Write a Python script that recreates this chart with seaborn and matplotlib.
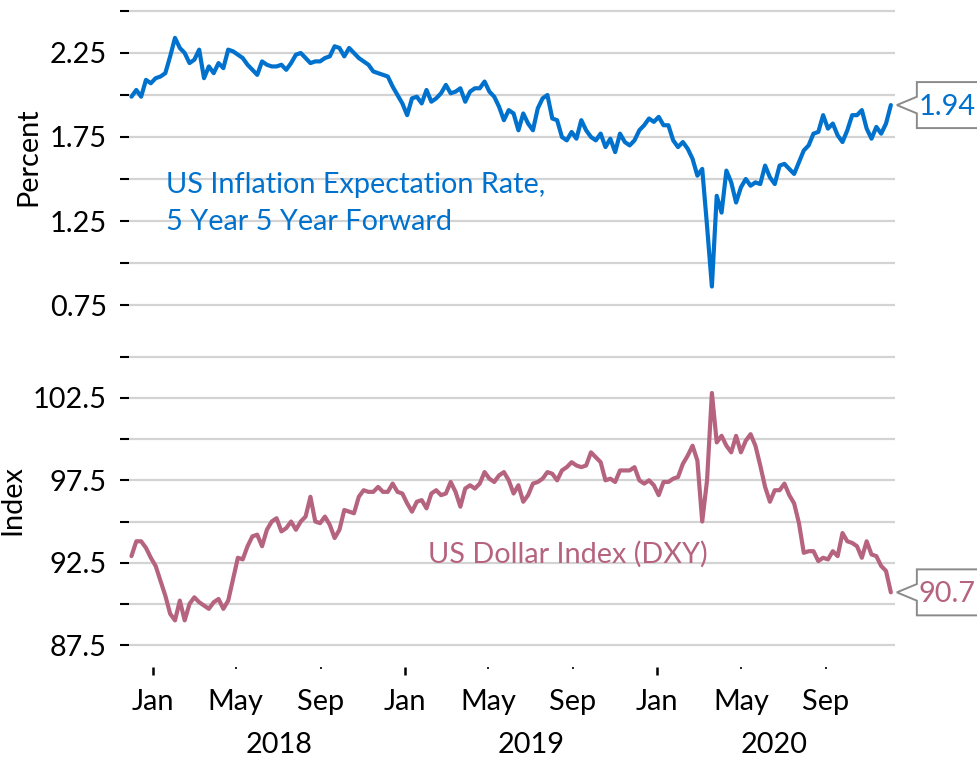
import numpy as np
import pandas as pd
import matplotlib
matplotlib.use("Agg")
import matplotlib.pyplot as plt
import matplotlib.dates as mdates
from matplotlib.patches import Polygon
from matplotlib.transforms import Affine2D
import seaborn as sns

# ---------------- data (weekly readings) ----------------
dates = pd.date_range("2017-12-01", periods=158, freq="7D")

inflation = [
    1.99, 2.03, 1.99, 2.09, 2.07, 2.10, 2.11, 2.13, 2.23, 2.34,
    2.28, 2.25, 2.19, 2.21, 2.27, 2.10, 2.17, 2.13, 2.19, 2.16,
    2.27, 2.26, 2.24, 2.22, 2.18, 2.15, 2.12, 2.20, 2.18, 2.17,
    2.17, 2.18, 2.15, 2.19, 2.24, 2.25, 2.22, 2.19, 2.20, 2.20,
    2.22, 2.23, 2.29, 2.28, 2.23, 2.28, 2.25, 2.22, 2.20, 2.18,
    2.14, 2.13, 2.12,
    2.11, 2.05, 2.00, 1.95, 1.88, 1.98, 1.99,
    1.95, 2.03, 1.96, 1.98, 2.01, 2.06, 2.01, 2.02, 2.04, 1.96,
    2.02, 2.04, 2.04, 2.08, 2.02, 1.99, 1.93, 1.85, 1.91, 1.89,
    1.79, 1.89, 1.83, 1.79, 1.92, 1.98, 2.00, 1.86, 1.85, 1.75,
    1.73, 1.78, 1.74, 1.85, 1.79, 1.75, 1.73, 1.77, 1.69, 1.74,
    1.66, 1.77, 1.72, 1.70, 1.73, 1.79,
    1.82, 1.86, 1.84, 1.87,
    1.82, 1.82, 1.73, 1.69, 1.72, 1.68, 1.62, 1.52, 1.56, 1.22,
    0.86, 1.40, 1.30, 1.55, 1.48, 1.36, 1.45, 1.50, 1.46, 1.48,
    1.47, 1.58, 1.51, 1.47, 1.58, 1.59, 1.56, 1.53, 1.60, 1.67,
    1.70, 1.77, 1.78, 1.88, 1.80, 1.83, 1.76, 1.72, 1.79, 1.88,
    1.88, 1.91, 1.80, 1.74, 1.81, 1.77, 1.83, 1.94,
]

dxy = [
    92.9, 93.8, 93.8, 93.4, 92.8, 92.3, 91.4, 90.5, 89.4, 89.0,
    90.2, 89.0, 90.0, 90.4, 90.1, 89.9, 89.7, 90.1, 90.3, 89.7,
    90.2, 91.5, 92.8, 92.7, 93.5, 94.1, 94.2, 93.5, 94.5, 95.0,
    95.2, 94.4, 94.6, 95.0, 94.5, 95.0, 95.3, 96.5, 95.0, 94.9,
    95.3, 94.8, 94.0, 94.5, 95.7, 95.6, 95.5, 96.5, 96.9, 96.8,
    96.8, 97.1, 96.8,
    96.8, 97.3, 96.8, 96.7, 96.1, 95.6, 96.2,
    96.3, 95.8, 96.7, 96.9, 96.6, 96.7, 97.4, 96.8, 95.9, 97.0,
    97.2, 97.0, 97.3, 98.0, 97.6, 97.4, 97.8, 98.0, 97.5, 96.7,
    97.2, 96.2, 96.6, 97.3, 97.4, 97.6, 98.0, 97.9, 97.5, 98.1,
    98.3, 98.6, 98.4, 98.3, 98.4, 99.2, 98.9, 98.6, 97.5, 97.6,
    97.4, 98.1, 98.1, 98.1, 98.3, 97.5,
    97.3, 97.5, 97.2, 96.6,
    97.4, 97.4, 97.6, 97.7, 98.5, 99.0, 99.6, 98.7, 95.0, 97.5,
    102.8, 99.8, 100.2, 99.6, 99.2, 100.2, 99.2, 99.9, 100.3, 99.6,
    98.4, 97.1, 96.2, 96.9, 96.9, 97.3, 96.6, 96.1, 94.9, 93.1,
    93.2, 93.2, 92.6, 92.8, 92.7, 93.2, 92.9, 94.3, 93.8, 93.7,
    93.5, 92.8, 93.8, 93.0, 92.9, 92.3, 92.0, 90.7,
]

top_ticks = [0.75, 1.0, 1.25, 1.5, 1.75, 2.0, 2.25, 2.5]
top_labels = ["0.75", "", "1.25", "", "1.75", "", "2.25", ""]
bot_ticks = [87.5, 90.0, 92.5, 95.0, 97.5, 100.0, 102.5, 105.0]
bot_labels = ["87.5", "", "92.5", "", "97.5", "", "102.5", ""]

jan_ticks = ["2018-01-01", "2019-01-01", "2020-01-01"]
jan_labels = ["Jan", "Jan", "Jan"]
mid_ticks = ["2018-05-01", "2018-09-01", "2019-05-01", "2019-09-01",
             "2020-05-01", "2020-09-01"]
mid_labels = ["May", "Sep", "May", "Sep", "May", "Sep"]
years = ["2018", "2019", "2020"]

top_title = ["US Inflation Expectation Rate,", "5 Year 5 Year Forward"]
bot_title = "US Dollar Index (DXY)"

BLUE = "#0072CE"
PINK = "#B5637F"
GRID = "#d3d3d3"
FS = 20.8

df = pd.DataFrame({"date": dates, "inflation": inflation, "dxy": dxy})

# ---------------- style ----------------
sns.set_theme(style="white")
plt.rcParams["font.family"] = ["Lato", "DejaVu Sans"]

fig = plt.figure(figsize=(9.77, 7.58), dpi=100)
W, H = 977.0, 758.0
left_px, right_px = 128.7, 895.0
ax1 = fig.add_axes([left_px / W, 1 - 330 / H, (right_px - left_px) / W, 325 / H])
ax2 = fig.add_axes([left_px / W, 1 - 667 / H, (right_px - left_px) / W, 317 / H])

sns.lineplot(data=df, x="date", y="inflation", ax=ax1, color=BLUE, lw=3.0)
sns.lineplot(data=df, x="date", y="dxy", ax=ax2, color=PINK, lw=3.0)

xlim = (mdates.date2num(pd.Timestamp("2017-11-27")),
        mdates.date2num(pd.Timestamp("2020-12-10")))

for ax, ticks, labels in [(ax1, top_ticks, top_labels), (ax2, bot_ticks, bot_labels)]:
    ax.set_xlim(*xlim)
    for s in ax.spines.values():
        s.set_visible(False)
    ax.set_yticks(ticks)
    ax.set_yticklabels(labels)
    ax.yaxis.grid(True, color=GRID, lw=1.6)
    ax.xaxis.grid(False)
    ax.set_axisbelow(True)
    ax.tick_params(axis="y", left=True, length=6.8, width=1.5, color="black",
                   pad=9, labelsize=FS, labelcolor="black")
    ax.set_xlabel("")

ax1.set_ylim(0.6012, 2.5357)
ax2.set_ylim(86.17, 105.41)

ax1.set_xticks([])
ax1.set_ylabel("Percent", fontsize=FS, color="black")
ax1.yaxis.set_label_coords((41 - left_px) / (right_px - left_px), (330 - 157) / 325)
ax2.set_ylabel("Index", fontsize=FS, color="black")
ax2.yaxis.set_label_coords((25 - left_px) / (right_px - left_px), (667 - 500) / 317)

# x ticks on bottom axis
ax2.set_xticks([mdates.date2num(pd.Timestamp(d)) for d in jan_ticks])
ax2.set_xticklabels(jan_labels)
ax2.set_xticks([mdates.date2num(pd.Timestamp(d)) for d in mid_ticks], minor=True)
ax2.set_xticklabels(mid_labels, minor=True)
ax2.tick_params(axis="x", which="major", bottom=True, length=6, width=1.8,
                color="black", pad=10, labelsize=FS, labelcolor="black")
ax2.tick_params(axis="x", which="minor", bottom=True, length=1.7, width=1.2,
                color="black", pad=14.3, labelsize=FS, labelcolor="black")

# year labels centred on the portion of each year covered by data
start, end = dates[0], dates[-1]
for y in years:
    a = max(pd.Timestamp(f"{y}-01-01"), start)
    b = min(pd.Timestamp(f"{y}-12-31"), end)
    mid = a + (b - a) / 2
    ax2.text(mdates.date2num(mid), -(753 - 667) / 317, y,
             transform=ax2.get_xaxis_transform(), ha="center", va="baseline",
             fontsize=FS, color="black")

# series titles
ax1.text((166 - left_px) / (right_px - left_px), (330 - 193) / 325, top_title[0],
         transform=ax1.transAxes, color=BLUE, fontsize=FS, va="baseline", ha="left")
ax1.text((166 - left_px) / (right_px - left_px), (330 - 230) / 325, top_title[1],
         transform=ax1.transAxes, color=BLUE, fontsize=FS, va="baseline", ha="left")
ax2.text((428 - left_px) / (right_px - left_px), (667 - 562.7) / 317, bot_title,
         transform=ax2.transAxes, color=PINK, fontsize=FS, va="baseline", ha="left")

# end-value callouts
def callout(ax, x, y, txt, color):
    px, py = ax.transData.transform((mdates.date2num(x), y))
    tip_x = px + 6
    verts = [(0, 0), (20, 8.3), (20, 23), (90, 23), (90, -23), (20, -23), (20, -8.3)]
    poly = Polygon(verts, closed=True, facecolor="white", edgecolor="#8a8a8a",
                   lw=1.4, transform=Affine2D().translate(tip_x, py),
                   clip_on=False, zorder=5)
    ax.add_artist(poly)
    ax.annotate(txt, xy=(mdates.date2num(x), y), xytext=(56, -10),
                textcoords="offset pixels", ha="center", va="baseline",
                fontsize=FS, color=color, annotation_clip=False, zorder=6)

callout(ax1, dates[-1], inflation[-1], f"{inflation[-1]:.2f}", BLUE)
callout(ax2, dates[-1], dxy[-1], f"{dxy[-1]:.1f}", PINK)

fig.savefig("out.png", dpi=100)
